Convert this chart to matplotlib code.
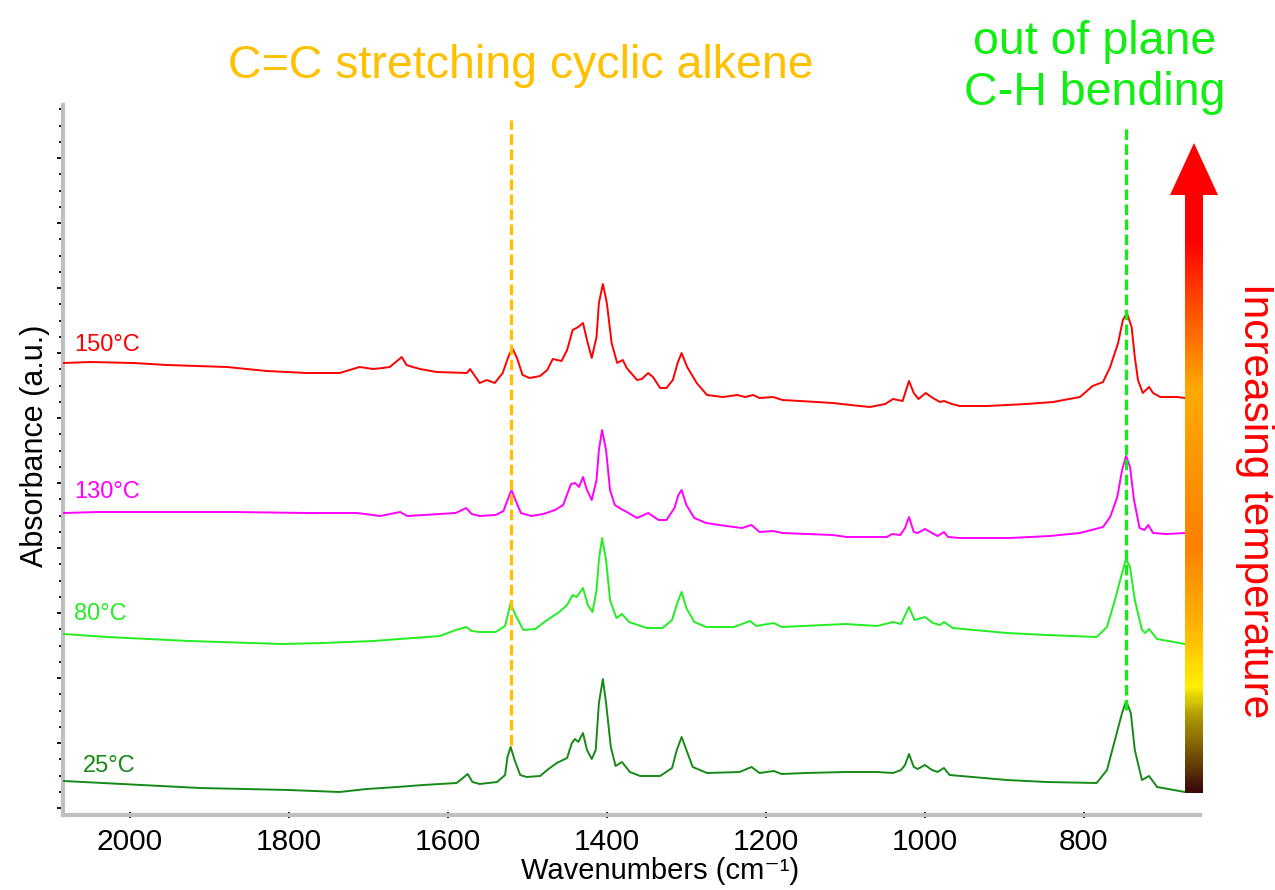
import numpy as np
import matplotlib
matplotlib.use("Agg")
import matplotlib.pyplot as plt
from matplotlib.colors import LinearSegmentedColormap
from matplotlib.patches import Polygon
from matplotlib.ticker import MultipleLocator

plt.rcParams.update({
    "font.family": ["Liberation Sans", "DejaVu Sans"],
})

# Spectra (wavenumber in cm-1, absorbance in arbitrary units, stacked)
wn_150 = [2083, 2050, 1996, 1953, 1878, 1828, 1777, 1736, 1711, 1694, 1682, 1673, 1658, 1652, 1644,
          1635, 1614, 1576, 1572, 1566, 1560, 1551, 1541, 1531, 1524, 1519, 1513, 1506, 1497, 1484,
          1475, 1468, 1457, 1450, 1443, 1436, 1430, 1425, 1419, 1413, 1410, 1405, 1400, 1394, 1387,
          1380, 1375, 1362, 1356, 1348, 1342, 1333, 1325, 1317, 1311, 1306, 1299, 1287, 1274, 1254,
          1236, 1226, 1216, 1208, 1191, 1179, 1157, 1116, 1082, 1069, 1050, 1040, 1028, 1020, 1014,
          1008, 999, 990, 981, 976, 966, 956, 922, 872, 839, 805, 789, 776, 767, 757,
          751, 746, 740, 736, 732, 726, 718, 713, 704, 683, 673]
ab_150 = [445, 446, 445, 443, 441, 437, 435, 435, 441, 439, 440, 441, 451, 443, 441,
          439, 436, 435, 439, 432, 425, 428, 425, 435, 451, 460, 450, 433, 430, 432,
          438, 449, 447, 458, 478, 481, 485, 468, 450, 471, 505, 524, 505, 465, 445,
          448, 440, 428, 429, 435, 431, 420, 420, 428, 445, 455, 441, 425, 413, 411,
          413, 411, 413, 410, 411, 408, 407, 405, 402, 401, 404, 409, 407, 427, 415,
          409, 415, 410, 406, 407, 404, 402, 402, 404, 406, 411, 422, 426, 441, 465,
          488, 495, 481, 451, 428, 415, 421, 415, 411, 411, 410]

wn_130 = [2083, 2041, 1870, 1777, 1714, 1685, 1660, 1651, 1610, 1590, 1577, 1570, 1560, 1540,
          1530, 1524, 1520, 1515, 1508, 1495, 1480, 1465, 1455, 1445, 1440, 1435, 1430, 1425,
          1419, 1413, 1410, 1406, 1401, 1396, 1390, 1382, 1375, 1362, 1348, 1335, 1325, 1315,
          1310, 1306, 1300, 1290, 1275, 1250, 1230, 1218, 1208, 1191, 1179, 1116, 1098, 1048,
          1041, 1031, 1025, 1020, 1014, 1009, 1000, 991, 984, 976, 971, 956, 893, 843,
          805, 776, 767, 758, 752, 747, 742, 737, 730, 724, 719, 713, 696, 673]
ab_130 = [295, 296, 296, 295, 295, 292, 296, 292, 294, 295, 300, 294, 292, 293,
          297, 310, 318, 308, 295, 292, 294, 298, 303, 324, 325, 321, 331, 318,
          308, 328, 358, 378, 358, 318, 303, 299, 296, 290, 295, 288, 288, 300,
          313, 318, 303, 290, 285, 282, 280, 283, 276, 277, 275, 273, 271, 271,
          274, 273, 280, 291, 276, 275, 279, 275, 272, 276, 271, 270, 270, 272,
          275, 281, 291, 311, 338, 352, 341, 308, 280, 278, 283, 275, 274, 275]

wn_80 = [2083, 2029, 1925, 1808, 1757, 1694, 1610, 1590, 1577, 1570, 1560, 1540, 1528, 1521,
         1515, 1505, 1490, 1475, 1460, 1450, 1443, 1438, 1430, 1424, 1418, 1413, 1410, 1406,
         1401, 1396, 1388, 1381, 1372, 1350, 1330, 1318, 1311, 1306, 1300, 1290, 1275, 1240,
         1220, 1212, 1190, 1180, 1100, 1060, 1040, 1030, 1020, 1013, 1000, 990, 981, 976,
         965, 897, 847, 784, 771, 761, 752, 747, 742, 736, 727, 723, 718, 708, 673]
ab_80 = [174, 171, 167, 164, 165, 167, 172, 178, 181, 177, 176, 176, 182, 205,
         193, 178, 179, 188, 196, 203, 213, 211, 220, 203, 196, 218, 248, 270,
         248, 208, 190, 194, 186, 180, 180, 188, 206, 216, 200, 186, 181, 181,
         187, 182, 185, 181, 184, 182, 186, 184, 201, 188, 191, 185, 183, 186,
         180, 175, 173, 171, 181, 208, 235, 249, 241, 208, 178, 175, 179, 169, 164]

wn_25 = [2083, 1912, 1800, 1736, 1702, 1664, 1631, 1589, 1581, 1575, 1569, 1560, 1538, 1528,
         1525, 1521, 1516, 1509, 1501, 1484, 1475, 1463, 1450, 1444, 1440, 1436, 1430, 1425,
         1419, 1414, 1410, 1405, 1401, 1395, 1389, 1381, 1371, 1358, 1333, 1318, 1312, 1306,
         1299, 1292, 1274, 1233, 1218, 1208, 1190, 1180, 1150, 1100, 1060, 1040, 1030, 1025,
         1020, 1014, 1009, 1000, 991, 984, 976, 969, 897, 847, 784, 771, 761, 752,
         747, 741, 736, 727, 718, 708, 673]
ab_25 = [27, 20, 18, 16, 19, 21, 23, 25, 30, 34, 26, 24, 26, 33,
         51, 61, 48, 33, 31, 32, 38, 45, 50, 65, 69, 66, 75, 58,
         49, 58, 105, 129, 105, 61, 42, 46, 36, 32, 32, 40, 58, 71,
         56, 41, 35, 36, 41, 35, 37, 34, 35, 36, 36, 35, 38, 43,
         54, 41, 39, 43, 38, 36, 40, 33, 28, 26, 25, 38, 68, 95,
         107, 95, 58, 28, 32, 21, 16]

temps = ["150°C", "130°C", "80°C", "25°C"]

# Band positions marked with dashed lines (cm-1)
CC_STRETCH = 1520
CH_BEND = 747

W, H = 1275, 890
fig = plt.figure(figsize=(W / 100, H / 100), dpi=100)
ax = fig.add_axes([63 / W, 1 - 815 / H, (1200 - 63) / W, (815 - 105) / H])

series = [
    (wn_150, ab_150, "#ff0000", (2070, 457)),
    (wn_130, ab_130, "#ff00ff", (2070, 310)),
    (wn_80, ab_80, "#22ee22", (2070, 188)),
    (wn_25, ab_25, "#168a16", (2059, 36)),
]
for (wn, ab, color, (lx, ly)), name in zip(series, temps):
    ax.plot(wn, ab, color=color, lw=1.4, zorder=3)
    ax.text(lx, ly, name, color=color, fontsize=17, va="baseline", ha="left")

ax.vlines(CC_STRETCH, 63, 688, colors="#ffc000", lw=2.3, linestyles=(0, (3.3, 1.4)), zorder=4)
ax.vlines(CH_BEND, 98, 683, colors="#11ee11", lw=2.3, linestyles=(0, (3.3, 1.4)), zorder=4)

ax.set_xlim(2084, 654)
ax.set_ylim(-7, 703)
ax.xaxis.set_major_locator(MultipleLocator(200))
ax.xaxis.set_minor_locator(MultipleLocator(50))
ax.yaxis.set_major_locator(MultipleLocator(65))
ax.yaxis.set_minor_locator(MultipleLocator(16.25))

for side in ["top", "right"]:
    ax.spines[side].set_visible(False)
for side in ["left", "bottom"]:
    ax.spines[side].set_color("#bfbfbf")
    ax.spines[side].set_linewidth(3)

ax.tick_params(axis="x", which="major", direction="inout", length=4, width=1.3,
               labelsize=21.5, pad=7)
ax.tick_params(axis="x", which="minor", direction="inout", length=3, width=1.3)
ax.tick_params(axis="y", which="major", direction="out", length=4, width=1.3, labelleft=False)
ax.tick_params(axis="y", which="minor", direction="out", length=3, width=1.3)

ax.set_xlabel("Wavenumbers (cm⁻¹)", fontsize=21)
ax.xaxis.set_label_coords((660 - 63) / 1137, (815 - 857) / 710)
ax.set_ylabel("Absorbance (a.u.)", fontsize=22)
ax.yaxis.set_label_coords((50 - 63) / 1137, (815 - 446) / 710)

fig.text(521 / W, 1 - 78 / H, "C=C stretching cyclic alkene", ha="center", va="baseline",
         fontsize=33.5, color="#ffc000")
fig.text(1095 / W, 1 - 105 / H, "out of plane\nC-H bending", ha="center", va="baseline",
         multialignment="center", linespacing=1.2, fontsize=33.5, color="#11ee11")
fig.text(1255 / W, 1 - 501 / H, "Increasing temperature", rotation=270, ha="center",
         va="center", fontsize=30.5, color="#ff0000")

# Gradient arrow on the right
fire = LinearSegmentedColormap.from_list("fire", [
    (0.0, "#3c0a0a"), (0.12, "#b4a000"), (0.16, "#fff000"), (0.254, "#ffb400"),
    (0.38, "#ff8000"), (0.62, "#ffaa00"), (0.754, "#ff4a00"), (0.85, "#ff0000"),
    (1.0, "#ff0000"),
])
aax = fig.add_axes([1160 / W, 1 - 805 / H, 70 / W, 670 / H])
aax.set_xlim(1160, 1230)
aax.set_ylim(805, 135)
aax.axis("off")
grad = np.linspace(0, 0.92, 256).reshape(-1, 1)
aax.imshow(grad, extent=[1185, 1203, 793, 194], origin="lower", cmap=fire,
           vmin=0, vmax=1, aspect="auto")
aax.add_patch(Polygon([(1170, 195), (1218, 195), (1194, 143)], closed=True,
                      facecolor="#ff0000", edgecolor="none"))

fig.savefig("out.png", dpi=100)
